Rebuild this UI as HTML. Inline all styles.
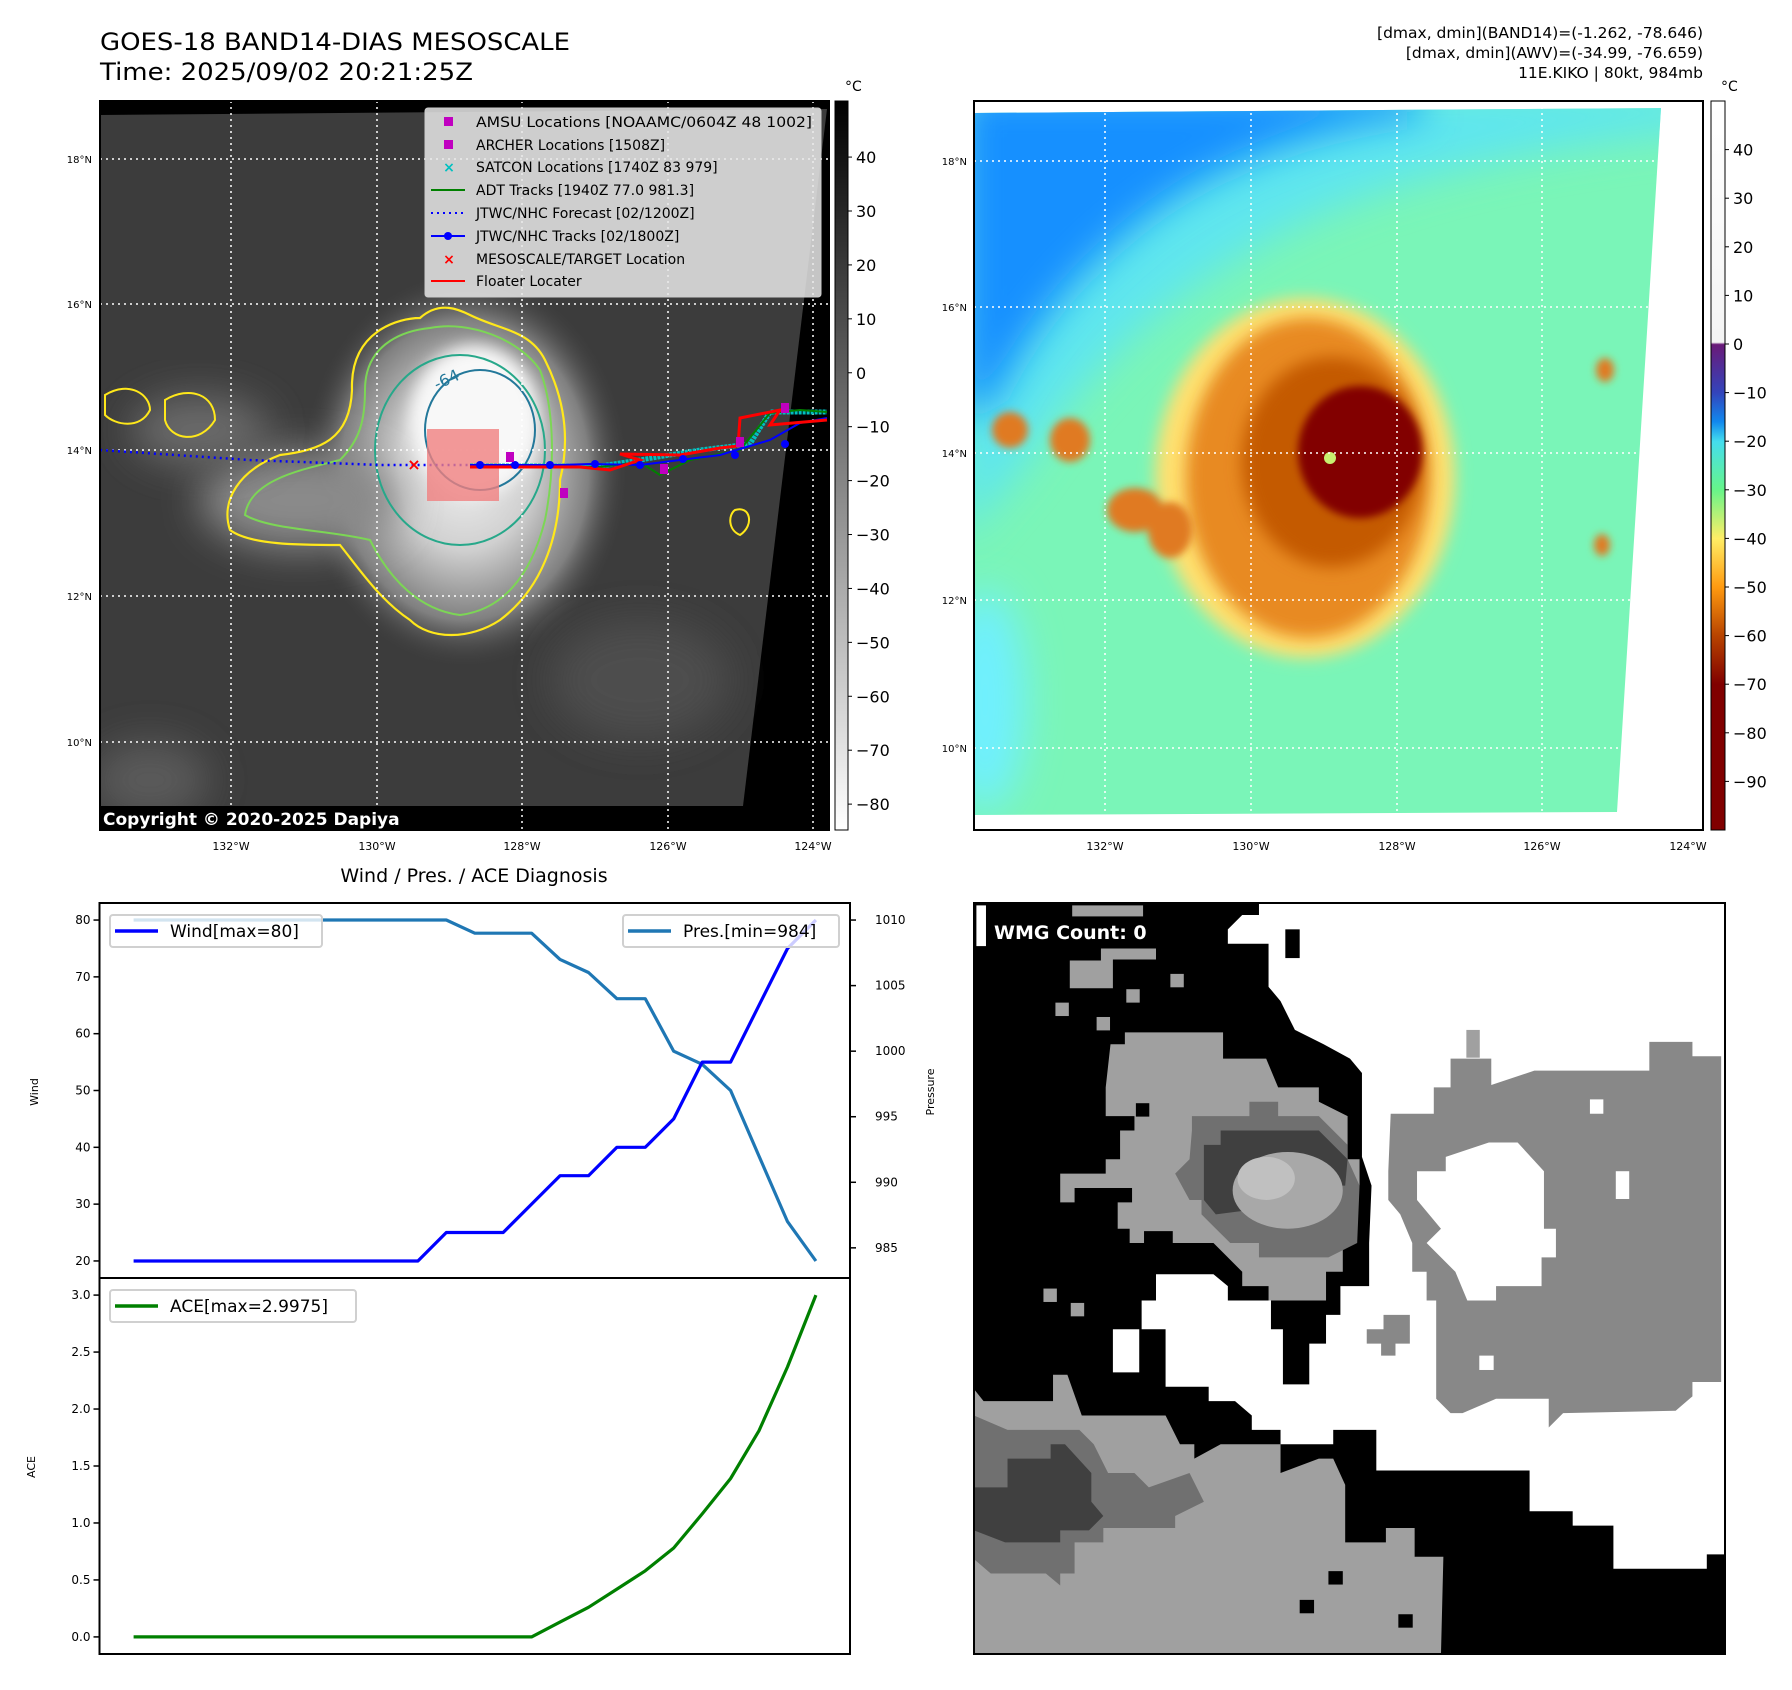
<!DOCTYPE html>
<html><head><meta charset="utf-8">
<style>
html,body{margin:0;padding:0;background:#fff;}
svg{display:block;font-family:"DejaVu Sans","Liberation Sans",sans-serif;}
</style></head>
<body>
<svg id="fig" width="1792" height="1690" viewBox="0 0 1792 1690" xmlns="http://www.w3.org/2000/svg">
<defs>
  <filter id="blur8" x="-50%" y="-50%" width="200%" height="200%"><feGaussianBlur stdDeviation="8"/></filter>
  <filter id="blur20" x="-50%" y="-50%" width="200%" height="200%"><feGaussianBlur stdDeviation="20"/></filter>
  <filter id="blur4" x="-50%" y="-50%" width="200%" height="200%"><feGaussianBlur stdDeviation="4"/></filter>
  <clipPath id="clipL"><rect x="100" y="101" width="729" height="729"/></clipPath>
  <clipPath id="clipR"><rect x="974" y="101" width="729" height="729"/></clipPath>
  <clipPath id="clipW"><rect x="974" y="903" width="751" height="751"/></clipPath>
  <radialGradient id="stormL" cx="0.5" cy="0.5" r="0.5">
    <stop offset="0" stop-color="#f0f0f0"/><stop offset="0.4" stop-color="#d0d0d0"/><stop offset="0.75" stop-color="#808080"/><stop offset="1" stop-color="#3a3a3a" stop-opacity="0"/>
  </radialGradient>
  <linearGradient id="cbL" x1="0" y1="0" x2="0" y2="1"><stop offset="0" stop-color="#000"/><stop offset="1" stop-color="#fff"/></linearGradient>
  <linearGradient id="cbR" x1="0" y1="0" x2="0" y2="1">
    <stop offset="0" stop-color="#fff"/><stop offset="0.331" stop-color="#f4f4f4"/>
    <stop offset="0.334" stop-color="#6a1a78"/><stop offset="0.40" stop-color="#3344bb"/>
    <stop offset="0.44" stop-color="#1188ee"/><stop offset="0.467" stop-color="#44ddee"/>
    <stop offset="0.533" stop-color="#66f58a"/><stop offset="0.6" stop-color="#ffee66"/>
    <stop offset="0.667" stop-color="#ff9a10"/><stop offset="0.733" stop-color="#b84400"/>
    <stop offset="0.8" stop-color="#800000"/><stop offset="1" stop-color="#800000"/>
  </linearGradient>
</defs>

<!-- Titles -->
<text x="100" y="50" font-size="24" textLength="470" lengthAdjust="spacingAndGlyphs">GOES-18 BAND14-DIAS MESOSCALE</text>
<text x="100" y="80" font-size="24" textLength="373" lengthAdjust="spacingAndGlyphs">Time: 2025/09/02 20:21:25Z</text>
<g font-size="15.5" text-anchor="end">
  <text x="1703" y="38">[dmax, dmin](BAND14)=(-1.262, -78.646)</text>
  <text x="1703" y="58">[dmax, dmin](AWV)=(-34.99, -76.659)</text>
  <text x="1703" y="78">11E.KIKO | 80kt, 984mb</text>
</g>

<!-- LEFT MAP -->
<g clip-path="url(#clipL)">
  <rect x="100" y="101" width="729" height="729" fill="#000"/>
  <polygon points="100,115 827,109 743,806 100,806" fill="#3c3c3c"/>
  <g clip-path="url(#clipL)">
    <ellipse cx="465" cy="470" rx="165" ry="200" fill="url(#stormL)"/>
    <ellipse cx="300" cy="500" rx="100" ry="50" fill="#8a8a8a" filter="url(#blur20)"/>
    <ellipse cx="200" cy="430" rx="70" ry="35" fill="#6a6a6a" filter="url(#blur20)"/>
    <ellipse cx="640" cy="680" rx="90" ry="60" fill="#4d4d4d" filter="url(#blur20)"/>
    <ellipse cx="150" cy="780" rx="60" ry="40" fill="#5a5a5a" filter="url(#blur20)"/>
    <ellipse cx="475" cy="420" rx="65" ry="75" fill="#f8f8f8" filter="url(#blur8)"/>
  </g>
  <!-- contours -->
  <path d="M352,390 C350,330 400,318 420,318 C440,300 460,310 470,315 C500,330 530,330 545,360 C565,400 570,440 560,480 C560,540 540,590 500,620 C470,640 430,640 410,620 C380,600 360,570 340,545 C300,545 250,545 230,530 C220,500 240,470 280,455 C320,450 350,440 352,390 Z" fill="none" stroke="#ffe81a" stroke-width="2.2"/>
  <path d="M365,390 C365,340 410,330 430,328 C470,320 520,340 540,370 C555,410 555,470 545,520 C530,580 500,610 460,615 C420,610 390,580 370,540 C330,530 270,530 245,515 C250,480 300,470 340,460 C360,440 365,420 365,390 Z" fill="none" stroke="#7cd655" stroke-width="2"/>
  <ellipse cx="460" cy="450" rx="85" ry="95" fill="none" stroke="#27a88a" stroke-width="2"/>
  <ellipse cx="480" cy="430" rx="55" ry="60" fill="none" stroke="#23789a" stroke-width="2"/>
  <path d="M105,395 C130,380 150,395 150,410 C140,430 115,425 105,415 Z M165,400 C190,385 215,395 215,420 C200,445 170,440 165,420 Z M735,510 C750,505 755,525 740,535 C728,530 728,515 735,510 Z" fill="none" stroke="#ffe81a" stroke-width="2"/>
  <!-- grid -->
  <g stroke="#fff" stroke-width="1.5" stroke-dasharray="2,4">
    <line x1="100" y1="159" x2="829" y2="159"/><line x1="100" y1="304" x2="829" y2="304"/>
    <line x1="100" y1="450" x2="829" y2="450"/><line x1="100" y1="596" x2="829" y2="596"/>
    <line x1="100" y1="742" x2="829" y2="742"/>
    <line x1="231" y1="101" x2="231" y2="830"/><line x1="377" y1="101" x2="377" y2="830"/>
    <line x1="522" y1="101" x2="522" y2="830"/><line x1="668" y1="101" x2="668" y2="830"/>
    <line x1="813" y1="101" x2="813" y2="830"/>
  </g>
  <!-- tracks -->
  <polyline points="100,450 250,460 380,465 470,465" fill="none" stroke="#0000ff" stroke-width="2.5" stroke-dasharray="2,4"/>
  <rect x="427" y="429" width="72" height="72" fill="#f08080" fill-opacity="0.8"/>
  <polyline points="470,466 600,466 640,460 700,450 750,444 770,412 827,412" fill="none" stroke="#00c0c0" stroke-width="5" stroke-dasharray="3,1"/>
  <polyline points="470,466 600,467 640,462 660,475 690,460 740,450 770,413 800,410 827,412" fill="none" stroke="#008000" stroke-width="2"/>
  <polyline points="470,465 520,465 560,465 590,464 640,465 680,460 720,455 770,440 800,423 827,418" fill="none" stroke="#0000ff" stroke-width="2"/>
  <polyline points="470,467 580,467 610,470 640,460 620,454 680,455 720,448 738,446 740,418 780,410 770,425 827,420" fill="none" stroke="#ff0000" stroke-width="3"/>
  <g fill="#0000ff"><circle cx="480" cy="465" r="4"/><circle cx="515" cy="465" r="4"/><circle cx="550" cy="465" r="4"/><circle cx="595" cy="464" r="4"/><circle cx="640" cy="465" r="4"/><circle cx="683" cy="459" r="4"/><circle cx="735" cy="455" r="4"/><circle cx="785" cy="444" r="4"/></g>
  <g fill="#c000c0"><rect x="506" y="452" width="8" height="10"/><rect x="560" y="488" width="8" height="10"/><rect x="660" y="464" width="8" height="10"/><rect x="781" y="403" width="8" height="10"/><rect x="736" y="437" width="8" height="10"/></g>
  <text x="414" y="470" font-size="16" font-weight="bold" fill="#ff0000" text-anchor="middle">×</text>
  <text x="437" y="390" font-size="16" fill="#23789a" transform="rotate(-25 437 390)">-64</text>
  <!-- legend -->
  <g>
    <rect x="425" y="108" width="396" height="189" fill="#e8e8e8" fill-opacity="0.85" stroke="#ccc" rx="3"/>
    <g font-size="14">
      <rect x="444" y="117" width="9" height="9" fill="#c000c0"/><text x="476" y="127" textLength="336" lengthAdjust="spacingAndGlyphs">AMSU Locations [NOAAMC/0604Z 48 1002]</text>
      <rect x="444" y="140" width="9" height="9" fill="#c000c0"/><text x="476" y="150">ARCHER Locations [1508Z]</text>
      <text x="449" y="172" fill="#00c0c0" text-anchor="middle" font-weight="bold">×</text><text x="476" y="172">SATCON Locations [1740Z 83 979]</text>
      <line x1="431" y1="190" x2="465" y2="190" stroke="#008000" stroke-width="2"/><text x="476" y="195">ADT Tracks [1940Z 77.0 981.3]</text>
      <line x1="431" y1="213" x2="465" y2="213" stroke="#0000ff" stroke-width="2" stroke-dasharray="2,4"/><text x="476" y="218">JTWC/NHC Forecast [02/1200Z]</text>
      <line x1="431" y1="236" x2="465" y2="236" stroke="#0000ff" stroke-width="2"/><circle cx="448" cy="236" r="4" fill="#0000ff"/><text x="476" y="241">JTWC/NHC Tracks [02/1800Z]</text>
      <text x="449" y="264" fill="#ff0000" text-anchor="middle" font-weight="bold">×</text><text x="476" y="264">MESOSCALE/TARGET Location</text>
      <line x1="431" y1="281" x2="465" y2="281" stroke="#ff0000" stroke-width="2"/><text x="476" y="286">Floater Locater</text>
    </g>
  </g>
  <rect x="100" y="806" width="308" height="24" fill="#000"/>
  <text x="103" y="825" font-size="17" font-weight="bold" fill="#fff">Copyright © 2020-2025 Dapiya</text>
</g>
<rect x="100" y="101" width="729" height="729" fill="none" stroke="#000" stroke-width="2"/>
<g font-size="10" text-anchor="end">
  <text x="92" y="163">18°N</text><text x="92" y="308">16°N</text><text x="92" y="454">14°N</text><text x="92" y="600">12°N</text><text x="92" y="746">10°N</text>
</g>
<g font-size="11" text-anchor="middle">
  <text x="231" y="850">132°W</text><text x="377" y="850">130°W</text><text x="522" y="850">128°W</text><text x="668" y="850">126°W</text><text x="813" y="850">124°W</text>
</g>
<!-- colorbar L -->
<g>
  <rect x="835" y="101" width="13" height="729" fill="url(#cbL)" stroke="#000" stroke-width="1"/>
  <text x="845" y="91" font-size="14">°C</text>
  <g id="cbLticks" font-size="16"></g>
</g>

<!-- RIGHT MAP -->
<g clip-path="url(#clipR)">
  <rect x="974" y="101" width="729" height="729" fill="#fff"/>
  <clipPath id="clipRimg"><polygon points="974,113 1661,108 1617,812 974,815"/></clipPath>
  <g clip-path="url(#clipRimg)">
    <rect x="974" y="101" width="729" height="729" fill="#7af5b8"/>
    <path d="M960,90 L1700,90 L1700,130 C1500,150 1350,190 1250,250 C1150,310 1080,380 1020,470 L960,540 Z" fill="#5fe6ee" filter="url(#blur20)"/>
    <path d="M960,90 L1420,90 L1420,115 C1300,130 1200,170 1130,230 C1070,280 1030,330 995,400 L960,420 Z" fill="#1890ff" filter="url(#blur20)"/>
    <ellipse cx="985" cy="700" rx="40" ry="110" fill="#6ff0ff" filter="url(#blur20)"/>
    <ellipse cx="1305" cy="478" rx="150" ry="180" fill="#ffe070" filter="url(#blur8)"/>
    <ellipse cx="1308" cy="478" rx="122" ry="160" fill="#e88a20" filter="url(#blur8)"/>
    <ellipse cx="1332" cy="462" rx="90" ry="105" fill="#c45a00" filter="url(#blur8)"/>
    <ellipse cx="1360" cy="452" rx="62" ry="66" fill="#820000" filter="url(#blur4)"/>
    <circle cx="1330" cy="458" r="6" fill="#c8f070"/>
    <g fill="#e07a20" filter="url(#blur4)">
      <ellipse cx="1010" cy="430" rx="18" ry="18"/><ellipse cx="1070" cy="440" rx="20" ry="22"/>
      <ellipse cx="1135" cy="510" rx="28" ry="22"/><ellipse cx="1170" cy="530" rx="22" ry="28"/>
      <ellipse cx="1605" cy="370" rx="9" ry="12"/><ellipse cx="1602" cy="545" rx="8" ry="11"/>
    </g>
  </g>
  <g stroke="#fff" stroke-width="1.5" stroke-dasharray="2,4">
    <line x1="974" y1="161" x2="1703" y2="161"/><line x1="974" y1="307" x2="1703" y2="307"/>
    <line x1="974" y1="453" x2="1703" y2="453"/><line x1="974" y1="600" x2="1703" y2="600"/>
    <line x1="974" y1="748" x2="1703" y2="748"/>
    <line x1="1105" y1="101" x2="1105" y2="830"/><line x1="1251" y1="101" x2="1251" y2="830"/>
    <line x1="1397" y1="101" x2="1397" y2="830"/><line x1="1542" y1="101" x2="1542" y2="830"/>
    <line x1="1688" y1="101" x2="1688" y2="830"/>
  </g>
</g>
<rect x="974" y="101" width="729" height="729" fill="none" stroke="#000" stroke-width="2"/>
<g font-size="10" text-anchor="end">
  <text x="967" y="165">18°N</text><text x="967" y="311">16°N</text><text x="967" y="457">14°N</text><text x="967" y="604">12°N</text><text x="967" y="752">10°N</text>
</g>
<g font-size="11" text-anchor="middle">
  <text x="1105" y="850">132°W</text><text x="1251" y="850">130°W</text><text x="1397" y="850">128°W</text><text x="1542" y="850">126°W</text><text x="1688" y="850">124°W</text>
</g>
<g>
  <rect x="1711" y="101" width="14" height="729" fill="url(#cbR)" stroke="#000" stroke-width="1"/>
  <text x="1721" y="91" font-size="14">°C</text>
  <g id="cbRticks" font-size="16"></g>
</g>

<!-- CHARTS -->
<text x="474" y="882" font-size="19" text-anchor="middle">Wind / Pres. / ACE Diagnosis</text>
<g id="charts"></g>

<!-- WMG panel -->
<g clip-path="url(#clipW)">
  <svg x="974" y="903" width="751" height="751" viewBox="0 0 1568 1568" preserveAspectRatio="none">
    <rect width="1568" height="1568" fill="#000"/>
    <polygon fill="#fff" points="595,0 1568,0 1568,1360 1530,1360 1530,1390 1335,1390 1335,1300 1250,1300 1250,1270 1160,1270 1160,1185 840,1185 840,1100 750,1100 750,1130 640,1130 640,1100 580,1100 580,1070 545,1040 490,1040 490,1010 400,1010 400,890 350,890 350,830 380,830 380,775 500,775 530,800 530,830 620,830 620,890 645,890 645,1005 700,1005 700,920 735,920 735,860 765,860 765,800 825,800 825,710 830,590 810,530 810,355 785,325 730,295 670,265 640,205 615,175 615,85 530,85 530,55 560,25 595,25"/>
    <rect x="290" y="890" width="55" height="90" fill="#fff"/>
    <rect x="650" y="55" width="30" height="60" fill="#000"/>
    <polygon fill="#888" points="870,440 960,440 960,385 995,385 995,325 1080,325 1080,380 1170,350 1410,350 1410,290 1500,290 1500,320 1560,320 1560,1000 1500,1000 1500,1030 1465,1060 1230,1065 1200,1095 1200,1035 1090,1035 1020,1065 995,1065 965,1035 965,830 945,830 945,770 915,770 915,710 890,650 865,620 865,560"/>
    <polygon fill="#fff" points="925,560 985,560 985,530 1075,500 1135,500 1190,560 1190,680 1215,680 1215,740 1185,740 1185,800 1090,800 1090,830 1030,830 1005,770 975,740 945,710 975,680 950,650 925,620"/>
    <polygon fill="#888" points="820,890 855,890 855,860 910,860 910,920 880,920 880,945 850,945 850,920 820,920"/>
    <polygon fill="#a0a0a0" points="200,120 265,120 265,95 380,95 380,118 290,118 290,178 200,178"/>
    <rect x="205" y="5" width="148" height="25" fill="#a0a0a0"/>
    <polygon fill="#a0a0a0" points="315,270 520,270 520,325 610,325 635,385 720,385 720,415 780,445 780,535 805,535 805,590 770,590 770,770 735,770 735,830 615,830 615,800 560,800 560,770 530,740 500,710 415,710 415,685 355,685 355,710 325,710 325,680 300,680 300,625 330,625 330,595 210,595 210,625 180,625 180,565 275,565 275,535 305,535 305,475 335,475 335,445 275,445 275,385 285,295 315,295"/>
    <polygon fill="#707070" points="455,445 575,445 575,415 635,415 635,445 720,445 750,475 780,505 780,535 805,590 800,710 740,740 595,740 595,710 535,710 505,680 475,650 475,620 450,620 420,565 450,535 455,475"/>
    <polygon fill="#404040" points="515,475 720,475 750,505 780,535 775,590 740,590 740,620 505,650 480,620 480,505 515,505"/>
    <ellipse cx="655" cy="600" rx="115" ry="80" fill="#a8a8a8"/>
    <ellipse cx="610" cy="575" rx="60" ry="45" fill="#c0c0c0"/>
    <polygon fill="#a0a0a0" points="0,1015 20,1040 165,1040 165,985 195,985 225,1070 400,1070 430,1130 460,1130 460,1160 515,1130 640,1130 640,1190 720,1160 750,1160 775,1215 775,1335 860,1335 860,1305 920,1305 920,1365 980,1365 975,1568 0,1568"/>
    <polygon fill="#707070" points="0,1070 70,1100 220,1100 250,1130 280,1190 335,1190 365,1220 450,1190 480,1250 420,1280 420,1305 270,1305 270,1335 210,1335 210,1400 180,1400 180,1425 150,1400 35,1400 0,1370"/>
    <polygon fill="#404040" points="70,1160 160,1160 160,1130 190,1130 245,1190 245,1250 270,1280 240,1310 180,1310 180,1335 65,1335 0,1310 0,1220 70,1220"/>
    <g fill="#a0a0a0"><rect x="410" y="148" width="28" height="28"/><rect x="318" y="180" width="28" height="28"/><rect x="170" y="208" width="28" height="28"/><rect x="256" y="238" width="28" height="28"/><rect x="145" y="805" width="28" height="28"/><rect x="202" y="835" width="28" height="28"/><rect x="1028" y="265" width="28" height="58"/></g>
    <g fill="#000"><rect x="740" y="1395" width="30" height="28"/><rect x="680" y="1455" width="30" height="28"/><rect x="886" y="1485" width="30" height="28"/><rect x="338" y="418" width="28" height="28"/></g>
    <g fill="#fff"><rect x="1286" y="410" width="28" height="30"/><rect x="1340" y="560" width="28" height="58"/><rect x="1055" y="945" width="30" height="30"/><rect x="5" y="5" width="20" height="85"/></g>
    <rect x="26" y="28" width="384" height="60" fill="#000"/>
  </svg>
  <text x="994" y="939" font-size="19" font-weight="bold" fill="#fff">WMG Count: 0</text>
</g>
<rect x="974" y="903" width="751" height="751" fill="none" stroke="#000" stroke-width="2"/>

<script>
// ---- chart data ----
const steps = [0,1,2,3,4,5,6,7,8,9,10,11,12,13,14,15,16,17,18,19,20,21,22,23,24];
const windValues = [20,20,20,20,20,20,20,20,20,20,20,25,25,25,30,35,35,40,40,45,55,55,65,75,80];
const presValues = [1010,1010,1010,1010,1010,1010,1010,1010,1010,1010,1010,1010,1009,1009,1009,1007,1006,1004,1004,1000,999,997,992,987,984];
const aceValues = [0,0,0,0,0,0,0,0,0,0,0,0,0,0,0,0.13,0.26,0.42,0.58,0.78,1.08,1.39,1.81,2.37,3.0];
const windTicks = [20,30,40,50,60,70,80];
const presTicks = [985,990,995,1000,1005,1010];
const aceTicks = [0,0.5,1,1.5,2,2.5,3];
const irCbTicks = [40,30,20,10,0,-10,-20,-30,-40,-50,-60,-70,-80];
const awvCbTicks = [40,30,20,10,0,-10,-20,-30,-40,-50,-60,-70,-80,-90];

const NS = "http://www.w3.org/2000/svg";
function mk(tag, attrs, parent){ const e=document.createElementNS(NS,tag); for(const k in attrs) e.setAttribute(k,attrs[k]); parent.appendChild(e); return e; }
const charts = document.getElementById('charts');
const L=99.5, R=850, T1=903, M=1278, B=1654;
const xMin=-1.2, xMax=25.2;
const xS = i => L + (i-xMin)/(xMax-xMin)*(R-L);
const wMin=17, wMax=83, pMin=982.7, pMax=1011.3, aMin=-0.15, aMax=3.15;
const yW = v => M - (v-wMin)/(wMax-wMin)*(M-T1);
const yP = v => M - (v-pMin)/(pMax-pMin)*(M-T1);
const yA = v => B - (v-aMin)/(aMax-aMin)*(B-M);

function line(xs, ys, color, name){
  const pts = xs.map((x,i)=>x.toFixed(1)+','+ys[i].toFixed(1)).join(' ');
  const p = mk('polyline',{points:pts,fill:'none',stroke:color,'stroke-width':3.2,'stroke-linejoin':'round'},charts);
  
  
}
function axisTicks(ticks, yf, side, fmt, axname){
  const g = mk('g',{'font-size':12},charts);
  
  
  ticks.forEach(t=>{
    const y=yf(t);
    if(side==='left'){
      mk('line',{x1:L-6,x2:L,y1:y,y2:y,stroke:'#000','stroke-width':1.5},g);
      const tx=mk('text',{x:L-9,y:y+4,'text-anchor':'end'},g); tx.textContent=fmt(t);
    } else {
      mk('line',{x1:R,x2:R+6,y1:y,y2:y,stroke:'#000','stroke-width':1.5},g);
      const tx=mk('text',{x:R+25,y:y+4},g); tx.textContent=fmt(t);
    }
  });
}
const f1 = mk('rect',{x:L,y:T1,width:R-L,height:M-T1,fill:'none',stroke:'#000','stroke-width':2},charts);


const f2 = mk('rect',{x:L,y:M,width:R-L,height:B-M,fill:'none',stroke:'#000','stroke-width':2},charts);



axisTicks(windTicks, yW, 'left', t=>String(t), 'wind-y-axis');
axisTicks(presTicks, yP, 'right', t=>String(t), 'pressure-y-axis');
axisTicks(aceTicks, yA, 'left', t=>t.toFixed(1), 'ace-y-axis');

line(steps.map(xS), presValues.map(yP), '#1f77b4', 'pressure-line');
line(steps.map(xS), windValues.map(yW), '#0000ff', 'wind-line');
line(steps.map(xS), aceValues.map(yA), '#008000', 'ace-line');

function ylabel(txt,x,y,name){
  const t=mk('text',{x:x,y:y,'font-size':11,'text-anchor':'middle',transform:`rotate(-90 ${x} ${y})`},charts);
  t.textContent=txt;
  
  
}
ylabel('Wind',38,1092,'wind-axis-title');
ylabel('Pressure',934,1092,'pressure-axis-title');
ylabel('ACE',35,1467,'ace-axis-title');

function legend(x,y,w,color,txt,name){
  const g=mk('g',{},charts);
  
  
  mk('rect',{x:x,y:y,width:w,height:32,fill:'#fff','fill-opacity':0.8,stroke:'#d0d0d0','stroke-width':2,rx:3},g);
  mk('line',{x1:x+5,x2:x+48,y1:y+16,y2:y+16,stroke:color,'stroke-width':3.5},g);
  const t=mk('text',{x:x+60,y:y+22,'font-size':17},g); t.textContent=txt;
}
legend(110,915,212,'#0000ff','Wind[max=80]','wind-legend');
legend(623,915,216,'#1f77b4','Pres.[min=984]','pressure-legend');
legend(110,1290,246,'#008000','ACE[max=2.9975]','ace-legend');

function cbTicks(id, ticks, top, bot, vTop, vBot, x){
  const g=document.getElementById(id);
  ticks.forEach(v=>{
    const y = top + (vTop-v)/(vTop-vBot)*(bot-top);
    mk('line',{x1:x,x2:x+4,y1:y,y2:y,stroke:'#000','stroke-width':1},g);
    const t=mk('text',{x:x+8,y:y+6},g); t.textContent=String(v).replace('-','\u2212');
  });
}
cbTicks('cbLticks', irCbTicks, 101, 830, 50.4, -84.8, 848);
cbTicks('cbRticks', awvCbTicks, 101, 830, 50, -100, 1725);
</script>
</svg>
</body></html>
